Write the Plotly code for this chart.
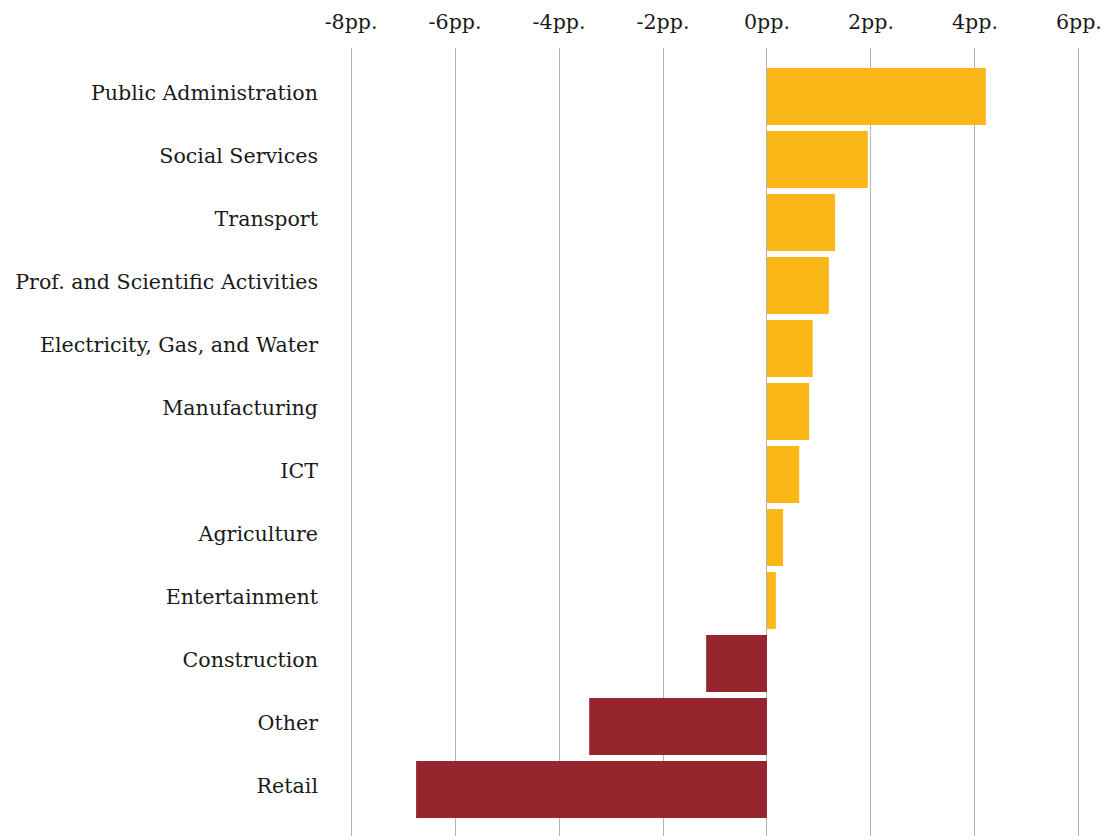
import plotly.graph_objects as go

# Change in employment share by sector, percentage points
sectors = [
    "Public Administration", "Social Services", "Transport",
    "Prof. and Scientific Activities", "Electricity, Gas, and Water",
    "Manufacturing", "ICT", "Agriculture", "Entertainment",
    "Construction", "Other", "Retail",
]
change_pp = [4.21, 1.94, 1.31, 1.19, 0.88, 0.81, 0.62, 0.31, 0.17, -1.17, -3.42, -6.75]

tick_values = [-8, -6, -4, -2, 0, 2, 4, 6]
tick_labels = ["-8pp.", "-6pp.", "-4pp.", "-2pp.", "0pp.", "2pp.", "4pp.", "6pp."]

POS = "#FBB617"
NEG = "#97252E"
colors = [POS if v >= 0 else NEG for v in change_pp]

FONT = "DejaVu Serif"
SIZE = 20.6

fig = go.Figure(
    go.Bar(
        x=change_pp,
        y=sectors,
        orientation="h",
        marker=dict(color=colors, line=dict(width=0)),
        hoverinfo="x+y",
    )
)

fig.update_layout(
    width=1111,
    height=836,
    margin=dict(l=335, r=16, t=48, b=0),
    paper_bgcolor="white",
    plot_bgcolor="white",
    bargap=6 / 63,
    showlegend=False,
    font=dict(family=FONT, size=SIZE, color="#1a1a1a"),
)

fig.update_xaxes(
    side="top",
    range=[-8.31, 6.31],
    tickvals=tick_values,
    ticktext=tick_labels,
    showgrid=True,
    gridcolor="#b4b4b4",
    gridwidth=1,
    zeroline=False,
    showline=False,
    ticks="",
    ticklabelstandoff=14,
    tickfont=dict(family=FONT, size=SIZE, color="#1a1a1a"),
)

fig.update_yaxes(
    type="category",
    categoryorder="array",
    categoryarray=sectors,
    range=[11.74, -0.77],
    showgrid=False,
    zeroline=False,
    showline=False,
    ticks="",
    ticklabelstandoff=16,
    ticklabelshift=4,
    tickfont=dict(family=FONT, size=SIZE, color="#1a1a1a"),
)

fig.write_html("out.html")
